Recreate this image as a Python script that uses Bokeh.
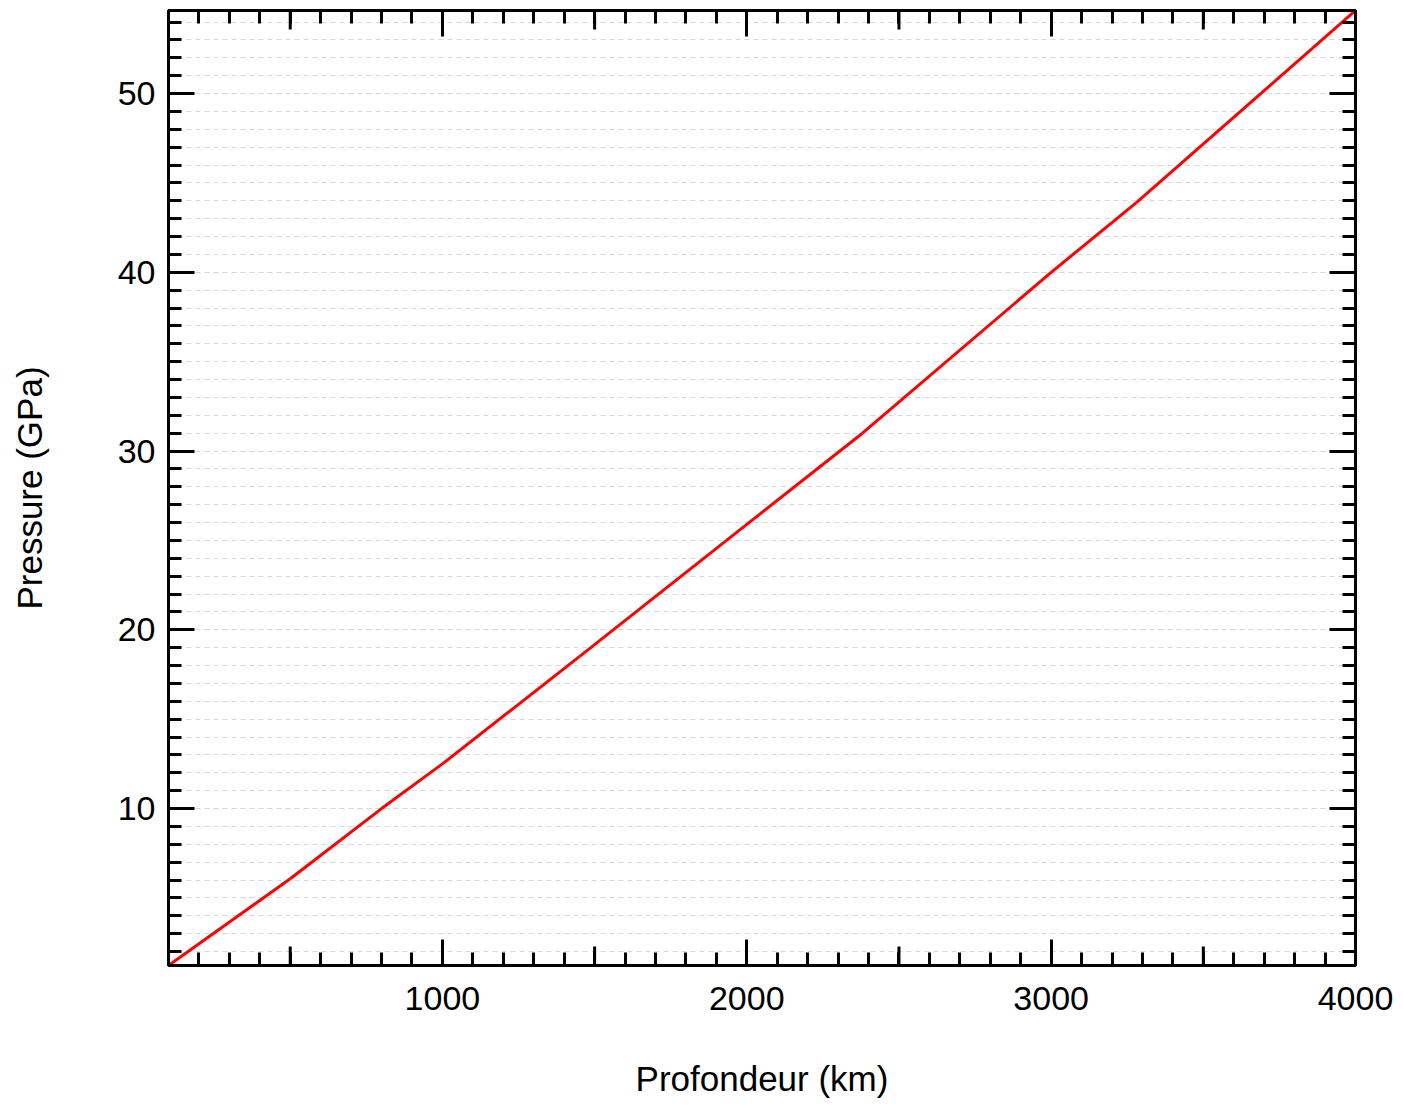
from bokeh.plotting import figure
from bokeh.models import LinearAxis, SingleIntervalTicker, Range1d, CustomJSTickFormatter
from bokeh.embed import file_html
from bokeh.resources import INLINE

# ---- data ----
depth_km = [100, 500, 800, 1000, 1450, 2000, 2380, 3000, 3280, 4000]
pressure_gpa = [1.22, 6.07, 10.0, 12.5, 18.5, 25.9, 31.0, 40.0, 43.9, 54.65]
segment_breaks = [500, 1450, 2380, 3280]   # small discontinuities along the curve
medium_ticks_x = [500, 1500, 2500, 3500]

x_label = "Profondeur (km)"
y_label = "Pressure (GPa)"

X0, X1 = depth_km[0], depth_km[-1]
Y0, Y1 = pressure_gpa[0], pressure_gpa[-1]

FONT = "Liberation Sans"
FW, FH = 1187, 955
BL, BR, BT, BB = 168, 40, 10, 133

p = figure(frame_width=FW, frame_height=FH, output_backend="svg", toolbar_location=None,
           x_range=Range1d(X0, X1), y_range=Range1d(Y0, Y1),
           min_border_left=BL, min_border_right=BR, min_border_top=BT, min_border_bottom=BB,
           x_axis_label=x_label, y_axis_label=y_label)
p.background_fill_color = "white"
p.border_fill_color = "white"
p.outline_line_color = "black"
p.outline_line_width = 3

xt = SingleIntervalTicker(interval=1000, num_minor_ticks=10)
yt = SingleIntervalTicker(interval=10, num_minor_ticks=10)

def style_axis(ax, show_labels):
    ax.axis_line_color = "black"
    ax.axis_line_width = 3
    ax.major_tick_line_color = "black"
    ax.major_tick_line_width = 3
    ax.minor_tick_line_color = "black"
    ax.minor_tick_line_width = 3
    ax.major_tick_in = 26
    ax.major_tick_out = 0
    ax.minor_tick_in = 13
    ax.minor_tick_out = 0
    ax.major_label_text_font = FONT
    ax.axis_label_text_font = FONT
    ax.axis_label_text_font_style = "normal"
    ax.axis_label_text_color = "black"
    ax.major_label_text_color = "black"
    if show_labels:
        ax.major_label_text_font_size = "34px"
        ax.axis_label_text_font_size = "35px"
    else:
        ax.formatter = CustomJSTickFormatter(code="return '';")
        ax.major_label_text_font_size = "1px"
        ax.major_label_standoff = 0
        ax.axis_label = None

xa = p.xaxis[0]
ya = p.yaxis[0]
xa.ticker = xt
ya.ticker = yt
style_axis(xa, True)
style_axis(ya, True)
xa.major_label_standoff = 21
xa.axis_label_standoff = 46
ya.major_label_standoff = 13
ya.axis_label_standoff = 66

top = LinearAxis(ticker=xt)
right = LinearAxis(ticker=yt)
style_axis(top, False)
style_axis(right, False)
p.add_layout(top, "above")
p.add_layout(right, "right")

p.xgrid.grid_line_color = None
p.ygrid.grid_line_color = "#d8d8d8"
p.ygrid.grid_line_dash = "5 4"
p.ygrid.grid_line_width = 1
p.ygrid.minor_grid_line_color = "#d8d8d8"
p.ygrid.minor_grid_line_dash = "5 4"
p.ygrid.minor_grid_line_width = 1

# medium (500 km) tick marks on top and bottom frame edges
dy = 19 * (Y1 - Y0) / FH
p.segment(x0=medium_ticks_x, y0=[Y0] * len(medium_ticks_x),
          x1=medium_ticks_x, y1=[Y0 + dy] * len(medium_ticks_x),
          line_color="black", line_width=3)
p.segment(x0=medium_ticks_x, y0=[Y1] * len(medium_ticks_x),
          x1=medium_ticks_x, y1=[Y1 - dy] * len(medium_ticks_x),
          line_color="black", line_width=3)

# curve split into pieces at the small breaks
xs, ys = [], []
cur_x, cur_y = [], []
for xv, yv in zip(depth_km, pressure_gpa):
    cur_x.append(xv)
    cur_y.append(yv)
    if xv in segment_breaks:
        xs.append(cur_x)
        ys.append(cur_y)
        cur_x, cur_y = [xv], [yv]
xs.append(cur_x)
ys.append(cur_y)
p.multi_line(xs, ys, line_color="#ff0000", line_width=3, line_cap="butt")

open("out.html", "w").write(file_html(p, INLINE))
